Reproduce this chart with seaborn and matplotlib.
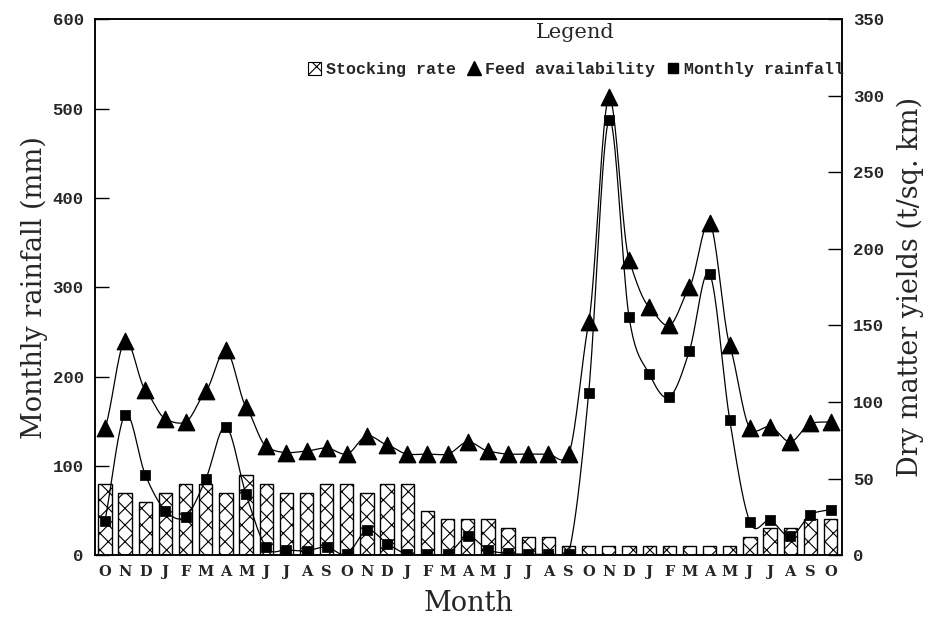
import numpy as np
import pandas as pd
import matplotlib
matplotlib.use("Agg")
import matplotlib.pyplot as plt
import seaborn as sns
from matplotlib.patches import Patch
from matplotlib.lines import Line2D

# Month initials, October through October (37 months)
months = list("ONDJFMAMJJAS" * 3 + "O")

# Stocking rate (bars, read on the left scale)
stocking_rate = [80, 70, 60, 70, 80, 80, 70, 90, 80, 70, 70, 80,
                 80, 70, 80, 80, 50, 40, 40, 40, 30, 20, 20, 10,
                 10, 10, 10, 10, 10, 10, 10, 10, 20, 30, 30, 40, 40]

# Feed availability, dry matter yield (t/sq. km), right scale
feed_availability = [83, 140, 108, 89, 87, 107, 134, 97, 71, 67, 68, 70,
                     66, 78, 72, 66, 66, 66, 74, 68, 66, 66, 66, 66,
                     152, 299, 193, 162, 150, 175, 217, 137, 83, 84, 74, 86, 87]

# Monthly rainfall (mm), left scale
monthly_rainfall = [38, 157, 90, 50, 43, 85, 144, 68, 9, 6, 5, 9,
                    1, 28, 13, 1, 1, 1, 21, 6, 2, 1, 1, 1,
                    182, 487, 267, 203, 177, 229, 315, 151, 37, 39, 21, 45, 51]

idx = np.arange(len(months))
df = pd.DataFrame({"idx": idx, "month": months, "stock": stocking_rate,
                   "feed": feed_availability, "rain": monthly_rainfall})


def cardinal_curve(y, tension=0.5, steps=20):
    """Cardinal (Hermite) spline through equally spaced points."""
    y = np.asarray(y, float)
    n = len(y)
    m = np.empty(n)
    m[1:-1] = tension * (y[2:] - y[:-2])
    m[0] = 2 * tension * (y[1] - y[0])
    m[-1] = 2 * tension * (y[-1] - y[-2])
    t = np.linspace(0, 1, steps, endpoint=False)
    h00 = 2 * t**3 - 3 * t**2 + 1
    h10 = t**3 - 2 * t**2 + t
    h01 = -2 * t**3 + 3 * t**2
    h11 = t**3 - t**2
    xs, ys = [], []
    for i in range(n - 1):
        xs.append(i + t)
        ys.append(h00 * y[i] + h10 * m[i] + h01 * y[i + 1] + h11 * m[i + 1])
    xs.append([n - 1])
    ys.append([y[-1]])
    return np.concatenate(xs), np.concatenate(ys)


sns.set_theme(style="white")
plt.rcParams["hatch.linewidth"] = 0.8
plt.rcParams["axes.linewidth"] = 1.1

fig = plt.figure(figsize=(9.3, 6.21), dpi=100)
ax = fig.add_axes([0.102, 0.106, 0.803, 0.863])

# Stocking-rate bars with cross hatching
sns.barplot(data=df, x="idx", y="stock", ax=ax, color="white",
            edgecolor="black", linewidth=1.0, width=0.66, saturation=1,
            zorder=1)
for bar in ax.patches:
    bar.set_hatch("xx")
    bar.set_facecolor("white")

# Monthly rainfall: smooth line + square markers
rx, ry = cardinal_curve(monthly_rainfall, tension=0.5)
sns.lineplot(x=rx, y=ry, ax=ax, color="black", linewidth=0.9,
             sort=False, zorder=3, estimator=None)
sns.scatterplot(data=df, x="idx", y="rain", ax=ax, marker="s", s=44,
                color="black", edgecolor="black", zorder=4)

ax.set_xlim(-0.5, 36.55)
ax.set_ylim(0, 600)
ax.set_yticks(range(0, 601, 100))

# Feed availability on the secondary axis
ax2 = ax.twinx()
fx, fy = cardinal_curve(feed_availability, tension=0.3)
sns.lineplot(x=fx, y=fy, ax=ax2, color="black", linewidth=0.9,
             sort=False, zorder=3, estimator=None)
sns.scatterplot(data=df, x="idx", y="feed", ax=ax2, marker="^", s=140,
                color="black", edgecolor="black", zorder=4)
ax2.set_ylim(0, 350)
ax2.set_yticks(range(0, 351, 50))
ax2.set_xlim(-0.5, 36.55)

for a in (ax, ax2):
    for s in a.spines.values():
        s.set_visible(True)
        s.set_color("black")
        s.set_linewidth(1.1)
    a.grid(False)

tick_font = {"family": "Liberation Mono", "weight": "bold", "size": 12.5}
ax.tick_params(axis="y", direction="in", length=10, width=1.0,
               color="black", left=True, pad=8)
ax2.tick_params(axis="y", direction="in", length=10, width=1.0,
                color="black", right=True, pad=8)
ax.set_yticklabels([str(v) for v in range(0, 601, 100)], fontdict=tick_font)
ax2.set_yticklabels([str(v) for v in range(0, 351, 50)], fontdict=tick_font)

ax.set_xticks(idx)
ax.set_xticklabels(months, family="DejaVu Serif", weight="bold", size=10.5)
ax.tick_params(axis="x", length=0, pad=7)

label_font = {"family": "DejaVu Serif", "size": 19.5}
ax.set_xlabel("Month", fontdict=label_font, labelpad=8)
ax.set_ylabel("Monthly rainfall (mm)", fontdict=label_font, labelpad=3)
ax2.set_ylabel("Dry matter yields (t/sq. km)", fontdict=label_font,
               labelpad=9)

handles = [
    Patch(facecolor="white", edgecolor="black", hatch="xx", linewidth=0.8),
    Line2D([], [], marker="^", color="black", linestyle="none", markersize=10),
    Line2D([], [], marker="s", color="black", linestyle="none", markersize=7),
]
labels = ["Stocking rate", "Feed availability", "Monthly rainfall"]
leg = ax2.legend(handles, labels, ncol=3, loc="upper right",
                 bbox_to_anchor=(1.003, 0.921), frameon=False,
                 borderpad=0, borderaxespad=0,
                 handlelength=0.8, handleheight=0.9, handletextpad=0.25,
                 columnspacing=0.7,
                 prop={"family": "Liberation Mono", "weight": "bold",
                       "size": 12})
leg.set_zorder(10)
ax2.text(0.6426, 0.9757, "Legend", transform=ax2.transAxes,
         ha="center", va="center", family="DejaVu Serif", size=15,
         zorder=10)

fig.savefig("out.png", dpi=100, facecolor="white")
